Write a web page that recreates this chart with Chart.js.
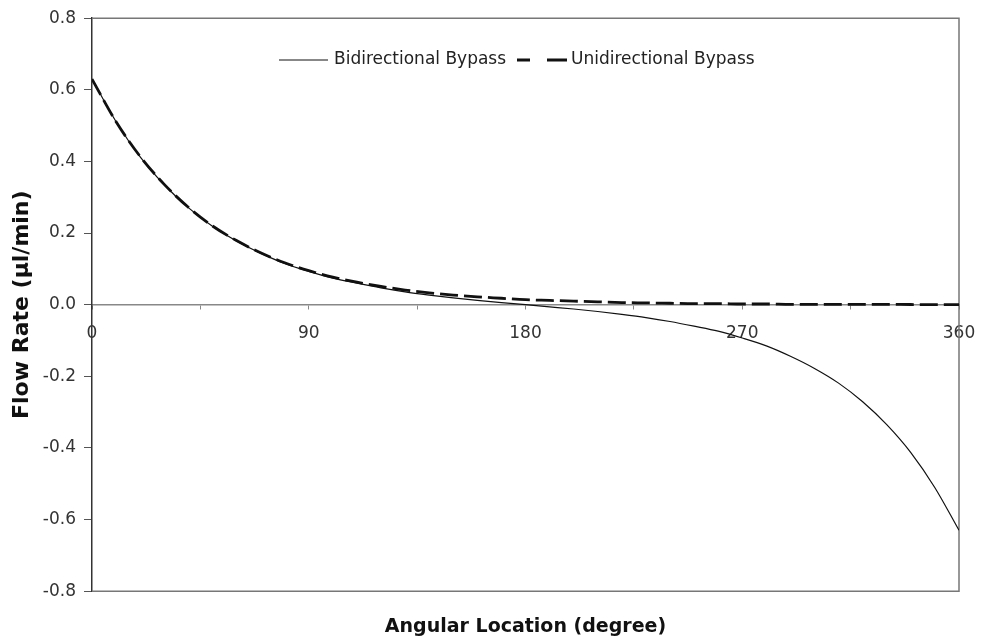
<!DOCTYPE html>
<html>
<head>
<meta charset="utf-8">
<script src="https://cdn.jsdelivr.net/npm/chart.js@4.4.0/dist/chart.umd.min.js"></script>
<style>
  html, body { margin: 0; padding: 0; background: #fff; }
  #wrap { width: 981px; height: 640px; }
</style>
</head>
<body>
<div id="wrap"><canvas id="flowChart" width="981" height="640"></canvas></div>
<script>
var angles = [0, 10, 20, 30, 40, 50, 60, 70, 80, 90, 100, 110, 120, 130, 140, 150, 160, 170, 180,
              190, 200, 210, 220, 230, 240, 250, 260, 270, 280, 290, 300, 310, 320, 330, 340, 350, 360];
var bidirectional = [0.630, 0.511, 0.413, 0.335, 0.271, 0.219, 0.178, 0.144, 0.115, 0.093,
                     0.074, 0.060, 0.047, 0.036, 0.027, 0.019, 0.012, 0.006, 0.0,
                     -0.006, -0.012, -0.019, -0.027, -0.036, -0.047, -0.060, -0.074, -0.093,
                     -0.115, -0.144, -0.178, -0.219, -0.271, -0.335, -0.413, -0.511, -0.630];
var unidirectional = [0.630, 0.511, 0.414, 0.336, 0.272, 0.220, 0.179, 0.145, 0.117, 0.095,
                      0.077, 0.063, 0.051, 0.041, 0.033, 0.027, 0.022, 0.018, 0.014,
                      0.012, 0.010, 0.008, 0.006, 0.005, 0.004, 0.003, 0.003, 0.002,
                      0.002, 0.001, 0.001, 0.001, 0.001, 0.001, 0.0005, 0.0004, 0.0003];
var seriesNames = ["Bidirectional Bypass", "Unidirectional Bypass"];
var yTicks = { min: -0.8, max: 0.8, step: 0.2 };
var xTicks = { min: 0, max: 360, step: 45, labelEvery: 90 };

function pairs(xs, ys) {
    return xs.map(function (x, i) { return { x: x, y: ys[i] }; });
}

// box round the plot area + the legend inside it
var boxAndLegend = {
    id: 'boxAndLegend',
    beforeDatasetsDraw: function (chart) {
        var a = chart.chartArea, ctx = chart.ctx;
        ctx.save();
        ctx.strokeStyle = '#777';
        ctx.lineWidth = 1.5;
        ctx.beginPath();
        ctx.moveTo(a.left, a.top);
        ctx.lineTo(a.right, a.top);
        ctx.lineTo(a.right, a.bottom);
        ctx.lineTo(a.left, a.bottom);
        ctx.stroke();
        ctx.restore();
    },
    afterDraw: function (chart) {
        var ctx = chart.ctx;
        var y = 60;
        ctx.save();
        ctx.font = '17px "DejaVu Sans"';
        ctx.fillStyle = '#222';
        ctx.textBaseline = 'middle';
        ctx.strokeStyle = '#111';
        ctx.lineWidth = 1;
        ctx.beginPath();
        ctx.moveTo(279, y); ctx.lineTo(328, y);
        ctx.stroke();
        ctx.fillText(seriesNames[0], 334, y);
        ctx.lineWidth = 3;
        ctx.beginPath();
        ctx.moveTo(517, y); ctx.lineTo(530, y);
        ctx.moveTo(547, y); ctx.lineTo(567, y);
        ctx.stroke();
        ctx.fillText(seriesNames[1], 571, y);
        ctx.restore();
    }
};

var ctx = document.getElementById('flowChart').getContext('2d');
var chart = new Chart(ctx, {
    type: 'line',
    data: {
        datasets: [
            {
                label: seriesNames[0],
                data: pairs(angles, bidirectional),
                borderColor: '#111',
                borderWidth: 1.2,
                pointRadius: 0,
                cubicInterpolationMode: 'monotone'
            },
            {
                label: seriesNames[1],
                data: pairs(angles, unidirectional),
                borderColor: '#111',
                borderWidth: 2.8,
                borderDash: [18, 6],
                pointRadius: 0,
                cubicInterpolationMode: 'monotone'
            }
        ]
    },
    options: {
        responsive: false,
        animation: false,
        layout: { padding: { top: 18, right: 22, left: 0, bottom: 0 } },
        plugins: {
            legend: { display: false },
            tooltip: { enabled: false },
            title: {
                display: true,
                position: 'bottom',
                fullSize: false,
                text: 'Angular Location (degree)',
                color: '#111',
                font: { family: '"DejaVu Sans"', size: 19, weight: 'bold' },
                padding: { top: 24, bottom: 2 }
            }
        },
        scales: {
            x: {
                type: 'linear',
                position: { y: 0 },
                min: xTicks.min,
                max: xTicks.max,
                afterFit: function (scale) {
                    scale.height = 0;
                    scale.paddingLeft = 0;
                    scale.paddingRight = 0;
                },
                border: { display: true, color: '#888', width: 1.5 },
                grid: { display: true, drawOnChartArea: false, drawTicks: true, tickLength: 4, color: '#888' },
                ticks: {
                    stepSize: xTicks.step,
                    autoSkip: false,
                    maxRotation: 0,
                    padding: 15,
                    color: '#333',
                    font: { family: '"DejaVu Sans"', size: 17 },
                    callback: function (v) { return v % xTicks.labelEvery === 0 ? v : ''; }
                }
            },
            y: {
                min: yTicks.min,
                max: yTicks.max,
                afterFit: function (scale) { scale.width = 92; },
                border: { display: true, color: '#333', width: 1.5 },
                grid: { display: true, drawOnChartArea: false, drawTicks: true, tickLength: 8, color: '#555' },
                ticks: {
                    stepSize: yTicks.step,
                    padding: 8,
                    color: '#333',
                    font: { family: '"DejaVu Sans"', size: 17 },
                    callback: function (v) { return v.toFixed(1); }
                },
                title: {
                    display: true,
                    text: 'Flow Rate (\u00b5l/min)',
                    color: '#111',
                    font: { family: '"DejaVu Sans"', size: 22, weight: 'bold' },
                    padding: { top: 9, bottom: 0 }
                }
            }
        }
    },
    plugins: [boxAndLegend]
});
</script>
</body>
</html>
